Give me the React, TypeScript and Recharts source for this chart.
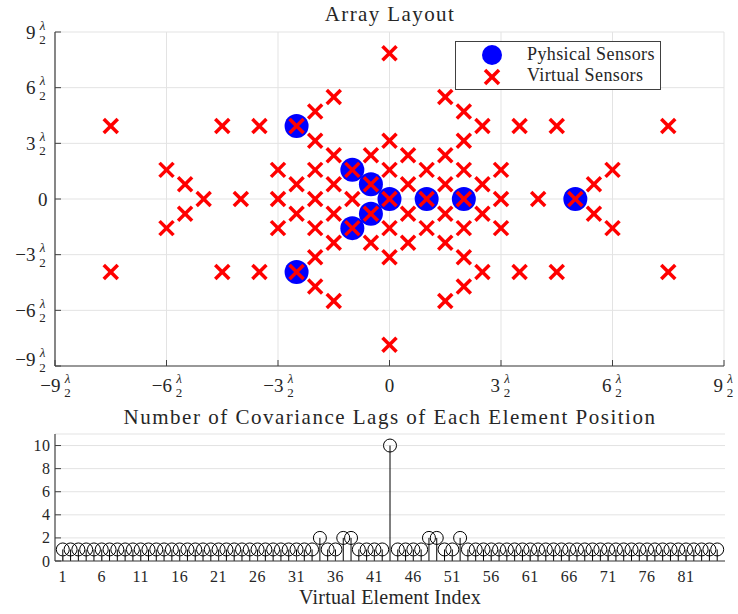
import React from 'react';
import { ScatterChart, Scatter, XAxis, YAxis, CartesianGrid, ReferenceLine } from 'recharts';

const SERIF = '"Liberation Serif", "DejaVu Serif", serif';
const INK = '#262626';
const AXIS = '#404040';
const GRID = '#e3e3e3';
const TICK = 6;

// positions in units of lambda/2
const layoutTicks = [-9, -6, -3, 0, 3, 6, 9];

const physX = [0, 1, 2, 5, -0.5, -1, -2.5, -0.5, -1, -2.5];
const physY = [0, 0, 0, 0, 0.79, 1.57, 3.93, -0.79, -1.57, -3.93];

const virtX = [
  0, 1, -1, -0.5, 0.5, -0.5, 0.5, 2, -2, 3, -3, 4, -4, 5, -5,
  -1, 1, -1.5, 1.5, -2, 2, -2.5, 2.5,
  -1, 1, -1.5, 1.5, -2, 2, -2.5, 2.5,
  1.5, 2, 3.5, 2.5, 3, 4.5, 5.5, 6, 7.5,
  -1.5, -2, -3.5, -2.5, -3, -4.5, -5.5, -6, -7.5,
  1.5, 2, 3.5, 2.5, 3, 4.5, 5.5, 6, 7.5,
  -1.5, -2, -3.5, -2.5, -3, -4.5, -5.5, -6, -7.5,
  0, 0.5, 2, -0.5, 0, 1.5, -2, -1.5, 0,
  0, -0.5, -2, 0.5, 0, -1.5, 2, 1.5, 0,
];
const virtY = [
  0, 0, 0, 0.79, -0.79, -0.79, 0.79, 0, 0, 0, 0, 0, 0, 0, 0,
  1.57, -1.57, 2.36, -2.36, 3.14, -3.14, 3.93, -3.93,
  -1.57, 1.57, -2.36, 2.36, -3.14, 3.14, -3.93, 3.93,
  -0.79, -1.57, -3.93, -0.79, -1.57, -3.93, -0.79, -1.57, -3.93,
  0.79, 1.57, 3.93, 0.79, 1.57, 3.93, 0.79, 1.57, 3.93,
  0.79, 1.57, 3.93, 0.79, 1.57, 3.93, 0.79, 1.57, 3.93,
  -0.79, -1.57, -3.93, -0.79, -1.57, -3.93, -0.79, -1.57, -3.93,
  1.57, 2.36, 4.71, 2.36, 3.14, 5.5, 4.71, 5.5, 7.85,
  -1.57, -2.36, -4.71, -2.36, -3.14, -5.5, -4.71, -5.5, -7.85,
];

// number of covariance lags per virtual element (index 1..85)
const lagCounts = [
  1, 1, 1, 1, 1, 1, 1, 1, 1, 1, 1, 1, 1, 1, 1, 1, 1, 1, 1, 1,
  1, 1, 1, 1, 1, 1, 1, 1, 1, 1, 1, 1, 1, 2, 1, 1, 2, 2, 1, 1,
  1, 1, 10, 1, 1, 1, 1, 2, 2, 1, 1, 2, 1, 1, 1, 1, 1, 1, 1, 1,
  1, 1, 1, 1, 1, 1, 1, 1, 1, 1, 1, 1, 1, 1, 1, 1, 1, 1, 1, 1,
  1, 1, 1, 1, 1,
];
const lagTicksX = [1, 6, 11, 16, 21, 26, 31, 36, 41, 46, 51, 56, 61, 66, 71, 76, 81];
const lagTicksY = [0, 2, 4, 6, 8, 10];

const physData = physX.map((x, i) => ({ x, y: physY[i] }));
const virtData = virtX.map((x, i) => ({ x, y: virtY[i] }));
const lagData = lagCounts.map((c, i) => ({ idx: i + 1, c }));

const signed = (n: number) => (n < 0 ? '\u2212' : '') + Math.abs(n);

// "n λ/2": number, then a small stacked fraction centred on fx
function LambdaLabel({ fx, cy, n }: { fx: number; cy: number; n: number }) {
  return (
    <text fontFamily={SERIF} fill={INK}>
      <tspan x={fx - 7} y={cy + 6.5} fontSize={19} textAnchor="end">{signed(n)}</tspan>
      <tspan x={fx} y={cy - 2.5} fontSize={13} fontStyle="italic" textAnchor="middle">λ</tspan>
      <tspan x={fx} y={cy + 12} fontSize={13} textAnchor="middle">2</tspan>
    </text>
  );
}

const layoutBottomTick = (p: any) => {
  const { x, y, payload } = p;
  const n = payload.value;
  const numW = (n < 0 ? 13 : 0) + String(Math.abs(n)).length * 9.5;
  const fx = x - (numW + 11.5) / 2 + numW + 7;
  return (
    <g>
      <line x1={x} y1={y} x2={x} y2={y - TICK} stroke={AXIS} />
      {n === 0 ? (
        <text x={x} y={y + 25.5} fontSize={19} fontFamily={SERIF} fill={INK} textAnchor="middle">0</text>
      ) : (
        <LambdaLabel fx={fx} cy={y + 19} n={n} />
      )}
    </g>
  );
};

const layoutLeftTick = (p: any) => {
  const { x, y, payload } = p;
  const n = payload.value;
  // the lowest label sits a little higher, clear of the x labels
  const cy = n === layoutTicks[0] ? y - 6.5 : y;
  return (
    <g>
      <line x1={x} y1={y} x2={x + TICK} y2={y} stroke={AXIS} />
      {n === 0 ? (
        <text x={x - 7.5} y={y + 6.5} fontSize={19} fontFamily={SERIF} fill={INK} textAnchor="end">0</text>
      ) : (
        <LambdaLabel fx={x - 12.5} cy={cy} n={n} />
      )}
    </g>
  );
};

const topTick = (p: any) => <line x1={p.x} y1={p.y} x2={p.x} y2={p.y + TICK} stroke={AXIS} />;
const rightTick = (p: any) => <line x1={p.x} y1={p.y} x2={p.x - TICK} y2={p.y} stroke={AXIS} />;

const lagBottomTick = (p: any) => (
  <g>
    <line x1={p.x} y1={p.y} x2={p.x} y2={p.y - TICK} stroke={AXIS} />
    <text x={p.x} y={p.y + 21} fontSize={16} fontFamily={SERIF} fill={INK} textAnchor="middle" letterSpacing={0.5}>
      {p.payload.value}
    </text>
  </g>
);

const lagLeftTick = (p: any) => (
  <g>
    <line x1={p.x} y1={p.y} x2={p.x + TICK} y2={p.y} stroke={AXIS} />
    <text x={p.x - 4.5} y={p.y + 5.5} fontSize={16} fontFamily={SERIF} fill={INK} textAnchor="end" letterSpacing={0.5}>
      {p.payload.value}
    </text>
  </g>
);

const PhysShape = (p: any) => <circle cx={p.cx} cy={p.cy} r={12} fill="#0000ff" />;

function Cross({ cx, cy, h = 7 }: { cx: number; cy: number; h?: number }) {
  return (
    <g stroke="#ff0000" strokeWidth={3.5}>
      <line x1={cx - h} y1={cy - h} x2={cx + h} y2={cy + h} />
      <line x1={cx - h} y1={cy + h} x2={cx + h} y2={cy - h} />
    </g>
  );
}
const VirtShape = (p: any) => <Cross cx={p.cx} cy={p.cy} />;

const StemHead = (p: any) => <circle cx={p.cx} cy={p.cy} r={6.5} fill="none" stroke="#000" strokeWidth={1} />;

const axisLine = { stroke: AXIS, strokeWidth: 1.2 };

export default function App() {
  return (
    <div style={{ position: 'absolute', left: 0, top: 0, width: 738, height: 614, background: '#fff' }}>
      <div style={{ position: 'absolute', left: 0, top: 0 }}>
        <ScatterChart width={738} height={400} margin={{ top: 32, right: 14, bottom: 0, left: 0 }}>
          <CartesianGrid stroke={GRID} />
          <XAxis type="number" dataKey="x" domain={[-9, 9]} ticks={layoutTicks} interval={0} height={34}
            axisLine={axisLine} tickLine={false} tickSize={0} tickMargin={0} tick={layoutBottomTick} allowDataOverflow />
          <XAxis xAxisId="top" orientation="top" type="number" dataKey="x" domain={[-9, 9]} ticks={layoutTicks} interval={0} height={0}
            axisLine={axisLine} tickLine={false} tickSize={0} tickMargin={0} tick={topTick} allowDataOverflow />
          <YAxis type="number" dataKey="y" domain={[-9, 9]} ticks={layoutTicks} interval={0} width={55}
            axisLine={axisLine} tickLine={false} tickSize={0} tickMargin={0} tick={layoutLeftTick} allowDataOverflow />
          <YAxis yAxisId="right" orientation="right" type="number" dataKey="y" domain={[-9, 9]} ticks={layoutTicks} interval={0} width={0}
            axisLine={axisLine} tickLine={false} tickSize={0} tickMargin={0} tick={rightTick} allowDataOverflow />
          <Scatter name="Pyhsical Sensors" data={physData} shape={PhysShape} isAnimationActive={false} />
          <Scatter name="Virtual Sensors" data={virtData} shape={VirtShape} isAnimationActive={false} />
        </ScatterChart>
      </div>

      <div style={{ position: 'absolute', left: 0, top: 400 }}>
        <ScatterChart width={738} height={214} margin={{ top: 34, right: 13, bottom: 0, left: 0 }}>
          <CartesianGrid stroke={GRID} vertical={false} />
          <XAxis type="number" dataKey="idx" domain={[0, 86]} ticks={lagTicksX} interval={0} height={53}
            axisLine={axisLine} tickLine={false} tickSize={0} tickMargin={0} tick={lagBottomTick} allowDataOverflow />
          <XAxis xAxisId="top" orientation="top" type="number" dataKey="idx" domain={[0, 86]} ticks={lagTicksX} interval={0} height={0}
            axisLine={axisLine} tickLine={false} tickSize={0} tickMargin={0} tick={topTick} allowDataOverflow />
          <YAxis type="number" dataKey="c" domain={[0, 11]} ticks={lagTicksY} interval={0} width={55}
            axisLine={axisLine} tickLine={false} tickSize={0} tickMargin={0} tick={lagLeftTick} allowDataOverflow />
          <YAxis yAxisId="right" orientation="right" type="number" dataKey="c" domain={[0, 11]} ticks={lagTicksY} interval={0} width={0}
            axisLine={axisLine} tickLine={false} tickSize={0} tickMargin={0} tick={rightTick} allowDataOverflow />
          {lagData.map((d) => (
            <ReferenceLine key={d.idx} segment={[{ x: d.idx, y: 0 }, { x: d.idx, y: d.c }]} stroke="#000" strokeWidth={1} />
          ))}
          <Scatter data={lagData} shape={StemHead} isAnimationActive={false} />
        </ScatterChart>
      </div>

      <svg width={738} height={614} style={{ position: 'absolute', left: 0, top: 0, pointerEvents: 'none' }}>
        <g fontFamily={SERIF} fill={INK} textAnchor="middle">
          <text x={390} y={21} fontSize={21} letterSpacing={1.4}>Array Layout</text>
          <text x={390} y={424} fontSize={21} letterSpacing={1.5}>Number of Covariance Lags of Each Element Position</text>
          <text x={390} y={604} fontSize={20} letterSpacing={0.2}>Virtual Element Index</text>
        </g>
        <rect x={455.5} y={41.5} width={205} height={48} fill="#fff" stroke={AXIS} strokeWidth={1} />
        <circle cx={492} cy={55} r={10} fill="#0000ff" />
        <Cross cx={492} cy={77} />
        <g fontFamily={SERIF} fill={INK} fontSize={18} letterSpacing={0.4}>
          <text x={527} y={59.5}>Pyhsical Sensors</text>
          <text x={527} y={80.5}>Virtual Sensors</text>
        </g>
      </svg>
    </div>
  );
}
